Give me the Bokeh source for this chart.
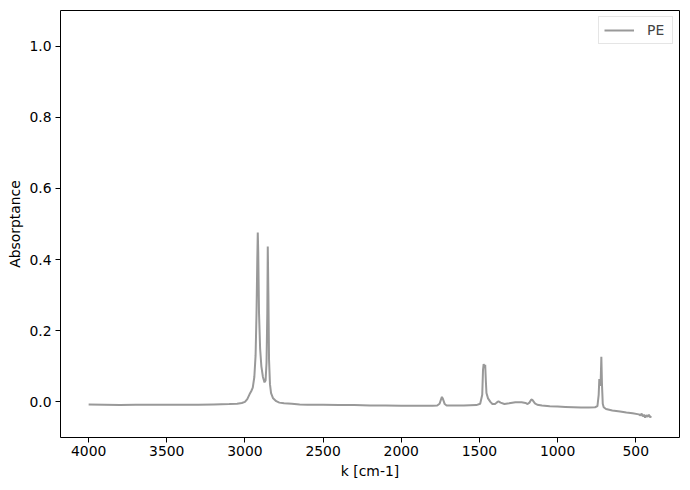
from bokeh.plotting import figure
from bokeh.models import Range1d, FixedTicker, PrintfTickFormatter, Legend, LegendItem
from bokeh.embed import file_html
from bokeh.resources import INLINE

# Spectrum points (wavenumber [cm-1], absorptance)
wavenumber = [4000, 3900, 3800, 3700, 3600, 3500, 3400, 3300, 3200, 3100, 3050, 3020,
              3000, 2985, 2970, 2960, 2950, 2940, 2932, 2926, 2921, 2918, 2915, 2910,
              2903, 2895, 2885, 2875, 2868, 2862, 2857, 2854, 2850, 2846, 2840, 2833,
              2820, 2800, 2780, 2750, 2700, 2650, 2600, 2500, 2400, 2300, 2200, 2100,
              2000, 1900, 1800, 1770, 1755, 1745, 1740, 1733, 1722, 1710, 1600, 1520,
              1495, 1482, 1477, 1473, 1467, 1463, 1459, 1455, 1445, 1430, 1417, 1400,
              1390, 1378, 1365, 1340, 1310, 1270, 1230, 1205, 1192, 1180, 1168, 1160,
              1145, 1130, 1100, 1050, 1000, 950, 900, 850, 800, 760, 745, 737,
              733, 728, 724, 720, 716, 711, 705, 690, 650, 600, 560, 520,
              480, 470, 462, 455, 447, 440, 432, 424, 416, 408, 400]
absorptance = [-0.007, -0.008, -0.009, -0.008, -0.008, -0.008, -0.008, -0.008, -0.007, -0.006, -0.005, -0.003,
               0.000, 0.008, 0.022, 0.030, 0.040, 0.070, 0.130, 0.250, 0.400, 0.476, 0.420, 0.250,
               0.150, 0.100, 0.070, 0.055, 0.060, 0.110, 0.250, 0.437, 0.300, 0.120, 0.050, 0.025,
               0.010, 0.002, -0.002, -0.004, -0.005, -0.007, -0.008, -0.008, -0.009, -0.009, -0.010, -0.010,
               -0.011, -0.011, -0.011, -0.010, -0.005, 0.008, 0.014, 0.008, -0.006, -0.010, -0.010, -0.009,
               -0.005, 0.020, 0.090, 0.106, 0.100, 0.104, 0.060, 0.025, 0.010, 0.000, -0.006, -0.006,
               -0.002, 0.002, -0.002, -0.006, -0.004, -0.001, -0.001, -0.003, -0.006, -0.002, 0.007, 0.005,
               -0.004, -0.008, -0.010, -0.012, -0.013, -0.014, -0.015, -0.016, -0.016, -0.015, -0.012, 0.020,
               0.064, 0.045, 0.060, 0.127, 0.050, -0.005, -0.015, -0.020, -0.024, -0.027, -0.030, -0.032,
               -0.035, -0.038, -0.033, -0.041, -0.036, -0.044, -0.037, -0.042, -0.036, -0.043, -0.040]

x_ticks = [500, 1000, 1500, 2000, 2500, 3000, 3500, 4000]
y_ticks = [0.0, 0.2, 0.4, 0.6, 0.8, 1.0]
series_label = "PE"
x_label = "k [cm-1]"
y_label = "Absorptance"

FONT = "DejaVu Sans"
FS = "13.9px"

p = figure(frame_width=619, frame_height=427, output_backend="svg", toolbar_location=None,
           x_range=Range1d(4180, 220), y_range=Range1d(-0.1, 1.1),
           min_border_left=60, min_border_right=1, min_border_top=10, min_border_bottom=40)

r = p.line(wavenumber, absorptance, line_color="#999999", line_width=2.0)

p.xgrid.visible = False
p.ygrid.visible = False
p.outline_line_color = "black"
p.outline_line_alpha = 1
p.outline_line_width = 1
p.background_fill_color = "white"
p.border_fill_color = "white"

for ax in (p.xaxis[0], p.yaxis[0]):
    ax.axis_line_color = None
    ax.major_tick_line_color = "black"
    ax.major_tick_out = 5
    ax.major_tick_in = 0
    ax.minor_tick_line_color = None
    ax.major_label_text_font = FONT
    ax.major_label_text_font_size = FS
    ax.major_label_text_color = "black"
    ax.axis_label_text_font = FONT
    ax.axis_label_text_font_size = FS
    ax.axis_label_text_font_style = "normal"
    ax.axis_label_text_color = "black"

p.xaxis[0].ticker = FixedTicker(ticks=x_ticks)
p.yaxis[0].ticker = FixedTicker(ticks=y_ticks)
p.yaxis[0].formatter = PrintfTickFormatter(format="%.1f")
p.xaxis[0].axis_label = x_label
p.yaxis[0].axis_label = y_label
p.xaxis[0].axis_label_standoff = 4
p.yaxis[0].axis_label_standoff = 3
p.xaxis[0].major_label_standoff = 3
p.yaxis[0].major_label_standoff = 4

legend = Legend(items=[LegendItem(label=series_label, renderers=[r])], location="top_right")
legend.label_text_font = FONT
legend.label_text_font_size = FS
legend.border_line_color = "#cccccc"
legend.border_line_width = 1
legend.margin = 6
legend.padding = 5
legend.glyph_width = 30
legend.glyph_height = 16
legend.label_height = 16
legend.label_standoff = 13
legend.spacing = 0
legend.background_fill_alpha = 0.8
p.add_layout(legend)

open("out.html", "w").write(file_html(p, INLINE))
